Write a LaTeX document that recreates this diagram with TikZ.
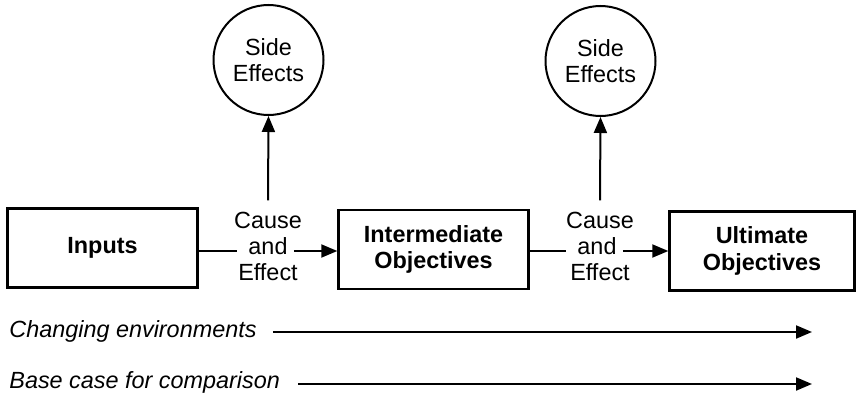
\documentclass[tikz,border=0pt]{standalone}
\usepackage{fontspec}
\setmainfont{Liberation Sans}
\usetikzlibrary{arrows.meta}
\begin{document}
\begin{tikzpicture}[x=0.5pt,y=-0.5pt,
  txt/.style={font=\fontsize{11.7}{13.3}\selectfont},
  box/.style={draw, line width=1.2pt, minimum width=95pt, minimum height=39.5pt,
    align=center, inner sep=0pt, font=\fontsize{11.7}{13.3}\selectfont\bfseries},
  sidefx/.style={draw, circle, line width=1pt, minimum size=55pt, align=center,
    inner sep=0pt, txt},
  lbl/.style={inner sep=0pt, anchor=base, txt},
  note/.style={inner sep=0pt, anchor=base west, font=\fontsize{11.7}{13.3}\selectfont\itshape},
  conn/.style={line width=1pt},
  arr/.style={conn, -{Triangle[length=8pt,width=6.5pt]}}]
\useasboundingbox (0,0) rectangle (857,396);

% main chain
\node[box] (inputs) at (102.5,248) {Inputs};
\node[box] (inter) at (433.5,249.5) {Intermediate\\Objectives};
\node[box, minimum width=92.5pt] (ult) at (762,251) {Ultimate\\Objectives};

% side effects
\node[sidefx] (side1) at (268.5,60) {Side\\Effects};
\node[sidefx] (side2) at (600.5,61) {Side\\Effects};

% cause and effect labels
\node[lbl] (cause1) at (268,228) {Cause};
\node[lbl] (and1) at (268,254) {and};
\node[lbl] (effect1) at (268,280) {Effect};
\node[lbl] (cause2) at (600,228) {Cause};
\node[lbl] (and2) at (597,254) {and};
\node[lbl] (effect2) at (600,280) {Effect};

\coordinate (l1) at ([yshift=1.5pt]and1.base);
\coordinate (l2) at ([yshift=1.5pt]and2.base);

\draw[conn] (l1 -| inputs.east) -- ([xshift=-5.5pt]l1 -| and1.west);
\draw[arr] ([xshift=3pt]l1 -| and1.east) -- (l1 -| inter.west);
\draw[conn] (l2 -| inter.east) -- ([xshift=-5.5pt]l2 -| and2.west);
\draw[arr] ([xshift=3pt]l2 -| and2.east) -- (l2 -| ult.west);

\draw[arr] ([yshift=5.5pt]cause1.north) -- (side1.south);
\draw[arr] ([yshift=5.5pt]cause2.north) -- (side2.south);

% environment lines
\node[note] (env) at (9,337) {Changing environments};
\node[note] (base) at (9,388) {Base case for comparison};
\coordinate (envend) at (812,332);
\coordinate (baseend) at (812,384);
\draw[arr] ([xshift=8pt]env.east |- envend) -- (envend);
\draw[arr] ([xshift=9pt]base.east |- baseend) -- (baseend);
\end{tikzpicture}
\end{document}
